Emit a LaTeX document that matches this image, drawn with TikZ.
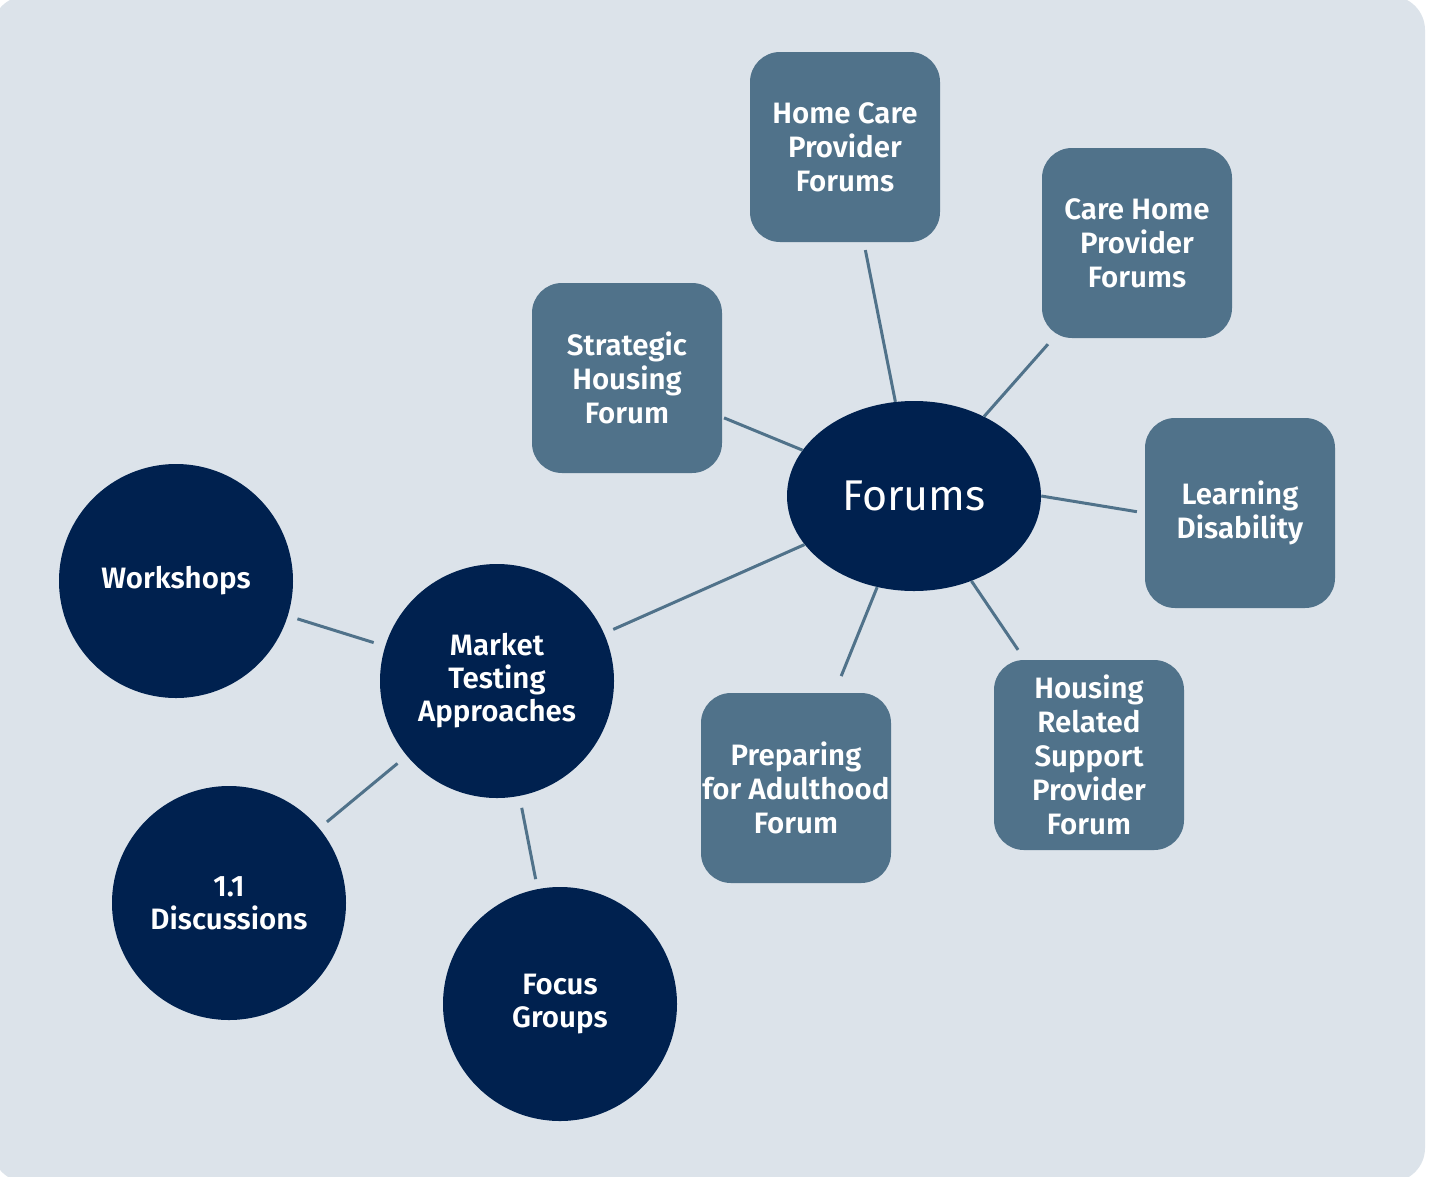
\documentclass[tikz,border=0pt]{standalone}
\usepackage{fontspec}
\setmainfont{Fira Sans}[BoldFont={Fira Sans SemiBold}]
\usetikzlibrary{shapes.geometric}
\definecolor{bgcol}{HTML}{DCE3EA}
\definecolor{boxcol}{HTML}{50728A}
\definecolor{darkcol}{HTML}{00214F}
\definecolor{linecol}{HTML}{50728A}
\tikzset{
  forumbox/.style={fill=boxcol, rounded corners=30pt, minimum width=190pt, minimum height=190pt, inner sep=0pt, text=white, align=center, font=\fontsize{29.5}{34}\bfseries\selectfont},
  bigcirc/.style={circle, fill=darkcol, minimum size=234pt, inner sep=0pt, text=white, align=center, font=\fontsize{29.5}{33}\bfseries\selectfont},
  hub/.style={ellipse, fill=darkcol, minimum width=254pt, minimum height=190pt, inner sep=0pt, text=white, font=\fontsize{43}{46}\selectfont},
  link/.style={draw=linecol, line width=3pt},
}
\begin{document}
\begin{tikzpicture}[x=1pt, y=-1pt]
\useasboundingbox (0,0) rectangle (1430,1176);
\fill[white] (0,0) rectangle (1430,1176);
\fill[bgcol, rounded corners=34pt] (-8,-4) rectangle (1425,1182);

\node[hub] (forums) at (914,496) {Forums};
\node[forumbox] (hc) at (845,147) {Home Care\\Provider\\Forums};
\node[forumbox] (ch) at (1137,243) {Care Home\\Provider\\Forums};
\node[forumbox] (sh) at (627,378) {Strategic\\Housing\\Forum};
\node[forumbox] (ld) at (1240,513) {Learning\\Disability};
\node[forumbox] (hr) at (1089,755) {Housing\\Related\\Support\\Provider\\Forum};
\node[forumbox] (pa) at (796,788) {Preparing\\for Adulthood\\Forum};

\node[bigcirc] (mt) at (497,681) {Market\\Testing\\Approaches};
\node[bigcirc] (ws) at (176,581) {Workshops};
\node[bigcirc] (dc) at (229,903) {1.1\\Discussions};
\node[bigcirc] (fg) at (560,1004) {Focus\\Groups};

\draw[link, shorten <=8pt] (hc) -- (forums);
\draw[link, shorten <=8pt] (ch) -- (forums);
\draw[link, shorten <=2pt] (sh) -- (forums);
\draw[link, shorten <=8pt] (ld.west) -- (forums.east);
\draw[link, shorten <=12pt] (hr) -- (forums);
\draw[link, shorten <=18pt] (pa) -- (forums);
\draw[link, shorten <=10pt] (mt) -- (forums);
\draw[link, shorten <=10pt, shorten >=12pt] (ws) -- (mt);
\draw[link, shorten <=10pt, shorten >=12pt] (dc) -- (mt);
\draw[link, shorten <=10pt, shorten >=12pt] (fg) -- (mt);
\end{tikzpicture}
\end{document}
